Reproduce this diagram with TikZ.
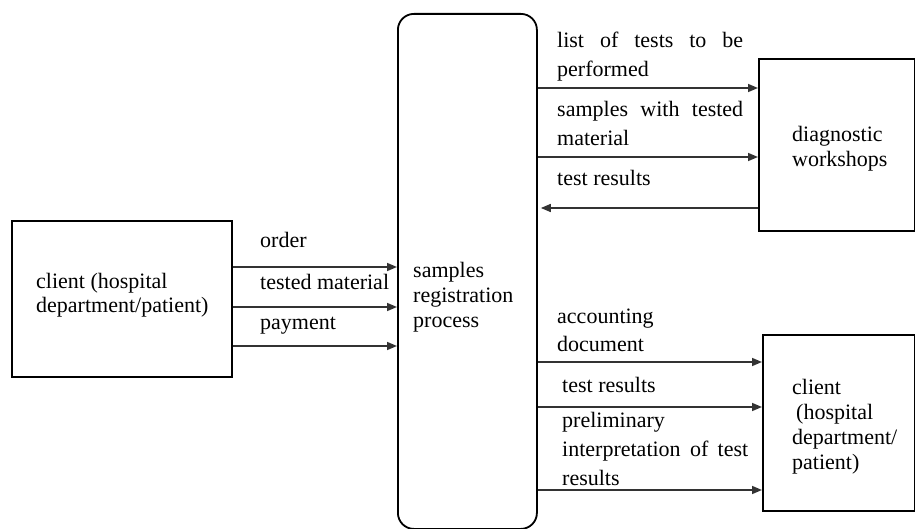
\documentclass[tikz,border=0pt]{standalone}
\usepackage{fontspec}
\setmainfont{Liberation Serif}
\usetikzlibrary{arrows.meta}
\begin{document}
\begin{tikzpicture}[x=1pt,y=-1pt,
  box/.style={draw, line width=1.8pt, inner sep=0pt, anchor=north west},
  flow/.style={draw=black!80, line width=1.6pt, -{Triangle[length=10pt,width=8pt]}},
  lbl/.style={anchor=base west, inner sep=0pt, font=\fontsize{22}{26}\selectfont},
]
\useasboundingbox (0,0) rectangle (915,529);

% boxes
\node[box, minimum width=220pt, minimum height=156pt] (src) at (11,220) {};
\node[box, rounded corners=16pt, minimum width=139pt, minimum height=515pt] (proc) at (397,13) {};
\node[box, minimum width=156pt, minimum height=172pt] (diag) at (758,58) {};
\node[box, minimum width=152pt, minimum height=176pt] (dst) at (762,334) {};

% box texts
\node[lbl] (srcA) at (36,288) {client (hospital};
\node[lbl] (srcB) at (36,312) {department/patient)};
\node[lbl] (procA) at (413,277) {samples};
\node[lbl] (procB) at (413,302) {registration};
\node[lbl] (procC) at (413,327) {process};
\node[lbl] (diagA) at (792,142) {diagnostic};
\node[lbl] (diagB) at (792,167) {workshops};
\node[lbl] (dstA) at (792,394) {client};
\node[lbl] (dstB) at (796,419) {(hospital};
\node[lbl] (dstC) at (792,444) {department/};
\node[lbl] (dstD) at (792,469) {patient)};

% incoming flows
\draw[flow] (src.east |- 0,267) -- (proc.west |- 0,267);
\draw[flow] (src.east |- 0,307) -- (proc.west |- 0,307);
\draw[flow] (src.east |- 0,346) -- (proc.west |- 0,346);
\node[lbl] (inA) at (260,248) {order};
\node[lbl] (inB) at (260,289) {tested material};
\node[lbl] (inC) at (260,329) {payment};

% flows to and from the workshops
\draw[flow] (proc.east |- 0,88) -- (diag.west |- 0,88);
\draw[flow] (proc.east |- 0,157) -- (diag.west |- 0,157);
\draw[flow] (diag.west |- 0,208) -- ([xshift=3pt]proc.east |- 0,208);
\node[lbl] (wA) at (557,48) {\makebox[186pt][s]{list of tests to be}};
\node[lbl] (wB) at (557,77) {performed};
\node[lbl] (wC) at (557,117) {\makebox[186pt][s]{samples with tested}};
\node[lbl] (wD) at (557,146) {material};
\node[lbl] (wE) at (557,186) {test results};

% outgoing flows to the client
\draw[flow] (proc.east |- 0,362) -- (dst.west |- 0,362);
\draw[flow] (proc.east |- 0,407) -- (dst.west |- 0,407);
\draw[flow] (proc.east |- 0,490) -- (dst.west |- 0,490);
\node[lbl] (oA) at (557,323) {accounting};
\node[lbl] (oB) at (557,351) {document};
\node[lbl] (oC) at (562,392) {test results};
\node[lbl] (oD) at (562,427) {preliminary};
\node[lbl] (oE) at (562,456) {\makebox[186pt][s]{interpretation of test}};
\node[lbl] (oF) at (562,485) {results};
\end{tikzpicture}
\end{document}
